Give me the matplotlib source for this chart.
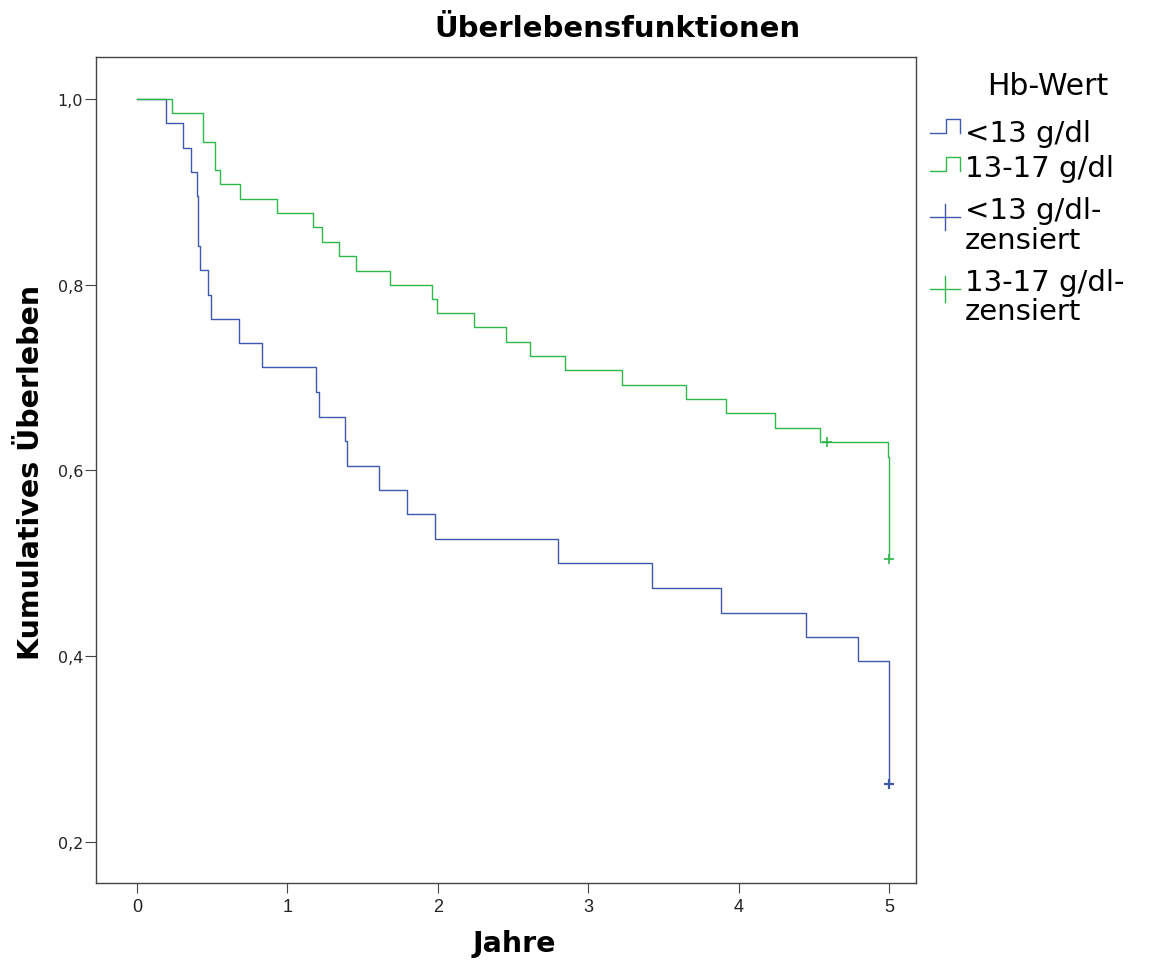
import matplotlib
matplotlib.use("Agg")
import matplotlib.pyplot as plt
from matplotlib.lines import Line2D

# Kaplan-Meier Schätzer, Zeitpunkte der Ereignisse (Jahre) und Überlebensanteil danach
t_lt13 = [0.0, 0.193, 0.308, 0.359, 0.397, 0.403, 0.408, 0.42, 0.474, 0.49, 0.68,
          0.829, 1.19, 1.21, 1.385, 1.396, 1.607, 1.795, 1.984, 2.80, 3.426,
          3.881, 4.448, 4.792, 5.0]
s_lt13 = [1.0, 0.974, 0.947, 0.921, 0.895, 0.868, 0.842, 0.816, 0.789, 0.763, 0.737,
          0.711, 0.684, 0.658, 0.632, 0.605, 0.579, 0.553, 0.526, 0.500, 0.474,
          0.447, 0.421, 0.395, 0.263]
cens_lt13_t = [5.0]
cens_lt13_s = [0.263]

t_13_17 = [0.0, 0.23, 0.437, 0.441, 0.521, 0.552, 0.685, 0.931, 1.171, 1.228, 1.343,
           1.458, 1.684, 1.963, 1.997, 2.243, 2.453, 2.613, 2.843, 3.226, 3.650,
           3.916, 4.242, 4.541, 4.991, 5.0]
s_13_17 = [1.0, 0.985, 0.969, 0.954, 0.923, 0.908, 0.892, 0.877, 0.862, 0.846, 0.831,
           0.815, 0.800, 0.785, 0.769, 0.754, 0.738, 0.723, 0.708, 0.692, 0.677,
           0.662, 0.646, 0.631, 0.615, 0.505]
cens_13_17_t = [4.586, 5.0]
cens_13_17_s = [0.631, 0.505]

x_ticks = [0, 1, 2, 3, 4, 5]
y_ticks = [0.2, 0.4, 0.6, 0.8, 1.0]
y_ticklabels = ["0,2", "0,4", "0,6", "0,8", "1,0"]

BLUE = "#3E58AC"
GREEN = "#2EB848"
FRAME = "#444444"

W, H = 1165, 962
fig = plt.figure(figsize=(W / 100, H / 100), dpi=100)


def fx(px):
    return px / W


def fy(py):
    return 1 - py / H


ax = fig.add_axes([fx(96), fy(884), fx(916) - fx(96), fy(58) - fy(884)])

ax.step(t_lt13, s_lt13, where="post", color=BLUE, lw=1.0)
ax.step(t_13_17, s_13_17, where="post", color=GREEN, lw=1.0)
ax.plot(cens_lt13_t, cens_lt13_s, ls="none", marker="+", ms=7, mew=1.6, color=BLUE)
ax.plot(cens_13_17_t, cens_13_17_s, ls="none", marker="+", ms=7, mew=1.2, color=GREEN)

ax.set_xlim(-0.273, 5.18)
ax.set_ylim(0.156, 1.045)

for sp in ax.spines.values():
    sp.set_color(FRAME)
    sp.set_linewidth(1.0)

ax.set_xticks(x_ticks)
ax.set_xticklabels([str(v) for v in x_ticks],
                   fontfamily=["Liberation Sans Narrow", "Liberation Sans"],
                   fontsize=13, color="#222222")
ax.set_yticks(y_ticks)
ax.set_yticklabels(y_ticklabels, fontfamily="DejaVu Sans", fontsize=11.5, color="#222222")
ax.tick_params(axis="x", direction="out", length=7.2, width=0.8, color=FRAME, pad=3.5)
ax.tick_params(axis="y", direction="out", length=8.2, width=0.8, color=FRAME, pad=1)

fig.text(fx(617), fy(37), "Überlebensfunktionen", ha="center", va="baseline",
         fontsize=21, fontweight="bold", family="DejaVu Sans")
fig.text(fx(514), fy(952), "Jahre", ha="center", va="baseline",
         fontsize=20.5, fontweight="bold", family="DejaVu Sans")
fig.text(fx(31), fy(472), "Kumulatives Überleben", ha="center", va="center",
         rotation=90, fontsize=20.5, fontweight="bold", family="DejaVu Sans")

# Legende rechts neben dem Diagramm
fig.text(fx(1048), fy(95), "Hb-Wert", ha="center", va="baseline", fontsize=21.5,
         family="DejaVu Sans")


def step_icon(color, y_low, y_high):
    xs = [fx(930), fx(946), fx(946), fx(960), fx(960)]
    ys = [fy(y_low), fy(y_low), fy(y_high), fy(y_high), fy(y_low)]
    fig.add_artist(Line2D(xs, ys, color=color, lw=1.0))


def plus_icon(color, yc):
    fig.add_artist(Line2D([fx(930), fx(960)], [fy(yc), fy(yc)], color=color, lw=1.0))
    fig.add_artist(Line2D([fx(945), fx(945)], [fy(yc - 13), fy(yc + 13)], color=color, lw=1.0))


step_icon(BLUE, 134, 120)
step_icon(GREEN, 172, 158)
plus_icon(BLUE, 218)
plus_icon(GREEN, 290)

legend_lines = [("<13 g/dl", 142), ("13-17 g/dl", 177), ("<13 g/dl-", 219),
                ("zensiert", 249), ("13-17 g/dl-", 291), ("zensiert", 320)]
for txt, base in legend_lines:
    fig.text(fx(965), fy(base), txt, ha="left", va="baseline", fontsize=21,
             family="DejaVu Sans")

fig.savefig("out.png", dpi=100)
